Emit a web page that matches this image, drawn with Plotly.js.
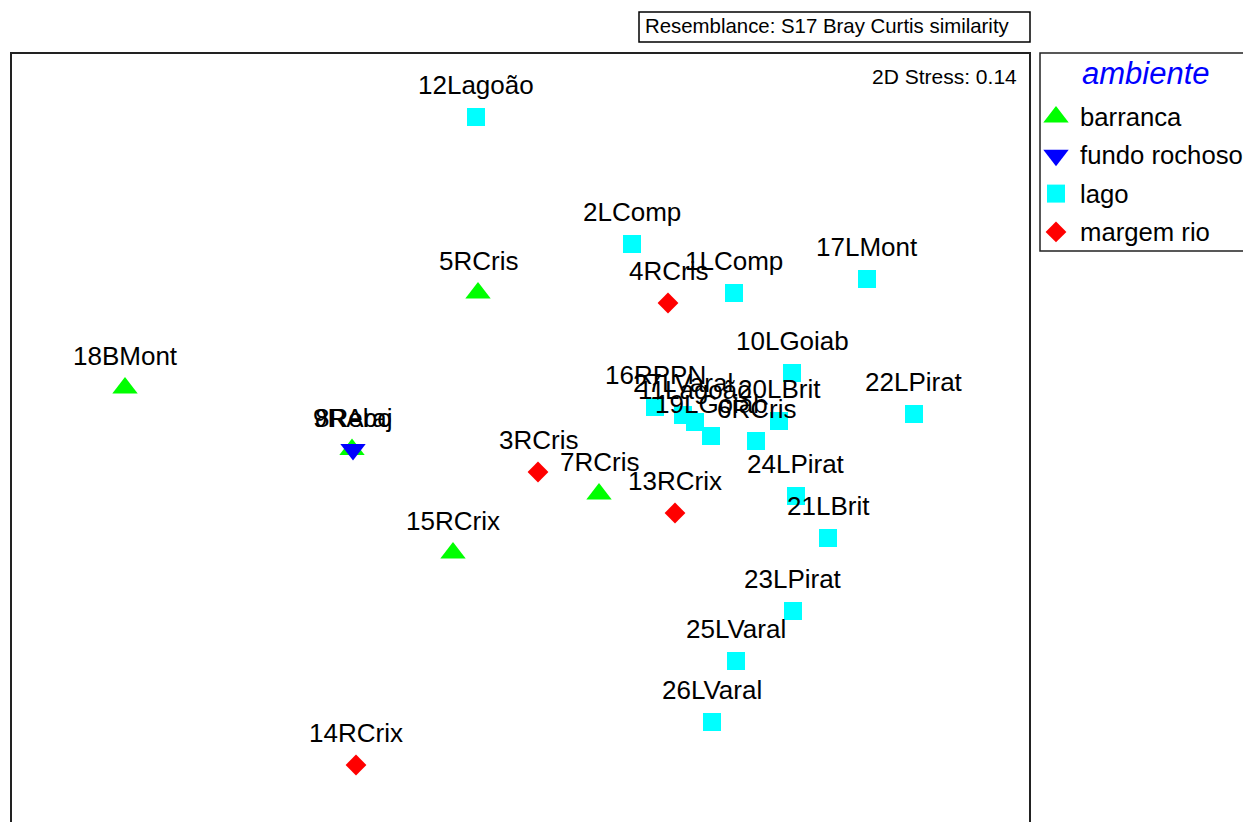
<!DOCTYPE html>
<html>
<head>
<meta charset="utf-8">
<script src="https://cdn.plot.ly/plotly-3.0.1.min.js"></script>
<style>html,body{margin:0;padding:0;background:#fff;}#chart{width:1243px;height:822px;}</style>
</head>
<body>
<div id="chart"></div>
<script>
// MDS ordination (arbitrary units)
const sampleLabels = ["18BMont","5RCris","9RAraj","7RCris","15RCrix",
  "8Rebo",
  "12Lagoão","2LComp","1LComp","17LMont","10LGoiab","22LPirat","16RPPN","27LVaral","11Lagoão","19LGoiab","6RCris","20LBrit","24LPirat","21LBrit","23LPirat","25LVaral","26LVaral",
  "4RCris","3RCris","13RCrix","14RCrix"];
const sampleGroups = ["barranca","barranca","barranca","barranca","barranca",
  "fundo rochoso",
  "lago","lago","lago","lago","lago","lago","lago","lago","lago","lago","lago","lago","lago","lago","lago","lago","lago",
  "margem rio","margem rio","margem rio","margem rio"];
const mdsX = [-1.935,-0.17,-0.80,0.435,-0.295,
  -0.795,
  -0.18,0.60,1.11,1.775,1.40,2.01,0.715,0.855,0.915,0.995,1.22,1.335,1.42,1.58,1.405,1.12,1.00,
  0.78,0.13,0.815,-0.78];
const mdsY = [0.245,0.72,-0.0625,-0.285,-0.58,
  -0.0625,
  1.60,0.965,0.72,0.79,0.32,0.115,0.15,0.11,0.075,0.005,-0.02,0.08,-0.295,-0.505,-0.87,-1.12,-1.425,
  0.67,-0.175,-0.38,-1.64];
const groupNames = ["barranca","fundo rochoso","lago","margem rio"];
const groupSymbols = ["triangle-up","triangle-down","square","diamond"];
const groupColors = ["#00ff00","#0000ff","#00ffff","#ff0000"];
const groupSizes = [22,22,18,16];
const legendTitle = "ambiente";
const stressText = "2D Stress: 0.14";
const resemblanceText = "Resemblance: S17 Bray Curtis similarity";

const FONT = "Liberation Sans, Arial, Helvetica, sans-serif";

// geometry (pixels)
const W = 1243, H = 822, L = 11, T = 53;
const plotW = W - L, plotH = H - T;
const frameRight = 1030, legLeft = 1040, legBottom = 251;
const px = v => (v - L) / plotW;          // paper x from pixel
const py = v => (H - v) / plotH;          // paper y from pixel

const traces = groupNames.map((g, gi) => {
  const idx = sampleGroups.map((v, i) => v === g ? i : -1).filter(i => i >= 0);
  return {
    type: "scatter", mode: "markers", name: g, xaxis: "x", yaxis: "y",
    x: idx.map(i => mdsX[i]), y: idx.map(i => mdsY[i]),
    marker: {symbol: groupSymbols[gi], color: groupColors[gi], size: groupSizes[gi], opacity: 1, line: {width: 0}},
    hoverinfo: "text", text: idx.map(i => sampleLabels[i]), showlegend: false
  };
});

// custom legend (key panel): rows laid out by index
const legRow0 = 64, legGap = 38.3, legSymX = 16, legTextX = 38;
const legRows = groupNames.map((g, i) => legRow0 + i * legGap);
traces.push({
  type: "scatter", mode: "markers", xaxis: "x2", yaxis: "y2", showlegend: false, hoverinfo: "skip",
  x: groupNames.map(() => legSymX), y: legRows,
  marker: {symbol: groupSymbols, color: groupColors, size: groupSizes, opacity: 1, line: {width: 0}}
});

const labelAnns = sampleLabels.map((t, i) => ({
  x: mdsX[i], y: mdsY[i], xref: "x", yref: "y", text: t, showarrow: false,
  yshift: 32, font: {family: FONT, size: 26, color: "#000"}
}));
const legendAnns = groupNames.map((g, i) => ({
  x: legTextX, y: legRows[i], xref: "x2", yref: "y2", xanchor: "left", yanchor: "middle",
  text: g, showarrow: false, font: {family: FONT, size: 25.7, color: "#000"}
}));

const layout = {
  width: W, height: H,
  margin: {l: L, r: 0, t: T, b: 0, autoexpand: false},
  paper_bgcolor: "#fff", plot_bgcolor: "#fff",
  font: {family: FONT, color: "#000"},
  showlegend: false,
  xaxis: {domain: [0, px(frameRight)], range: [-2.505, 2.59], showgrid: false, zeroline: false, showticklabels: false, showline: false, ticks: "", fixedrange: true},
  yaxis: {range: [-1.925, 1.92], showgrid: false, zeroline: false, showticklabels: false, showline: false, ticks: "", fixedrange: true},
  xaxis2: {domain: [px(legLeft), 1], range: [0, W - legLeft], showgrid: false, zeroline: false, showticklabels: false, showline: false, ticks: "", fixedrange: true},
  yaxis2: {domain: [0, 1], anchor: "x2", range: [plotH, 0], showgrid: false, zeroline: false, showticklabels: false, showline: false, ticks: "", fixedrange: true},
  shapes: [
    {type: "rect", xref: "paper", yref: "paper", x0: 0, x1: px(frameRight), y0: -0.1, y1: 1, line: {color: "#222", width: 2}},
    {type: "rect", xref: "paper", yref: "paper", x0: px(639), x1: px(1030), y0: py(42), y1: py(12), line: {color: "#000", width: 1.5}},
    {type: "rect", xref: "paper", yref: "paper", x0: px(legLeft), x1: px(W + 10), y0: py(legBottom), y1: 1, line: {color: "#222", width: 1.5}}
  ],
  annotations: labelAnns.concat(legendAnns, [
    {xref: "paper", yref: "paper", x: px(1019), y: py(76), xanchor: "right", yanchor: "middle", showarrow: false,
     text: stressText, font: {family: FONT, size: 21, color: "#000"}},
    {xref: "paper", yref: "paper", x: px(643), y: py(26), xanchor: "left", yanchor: "middle", showarrow: false,
     text: resemblanceText, font: {family: FONT, size: 20.4, color: "#000"}},
    {xref: "paper", yref: "paper", x: px(1146), y: py(73), xanchor: "center", yanchor: "middle", showarrow: false,
     text: "<i>" + legendTitle + "</i>", font: {family: FONT, size: 31, color: "#0000ff"}}
  ])
};

Plotly.newPlot("chart", traces, layout, {displayModeBar: false, responsive: false});
</script>
</body>
</html>
